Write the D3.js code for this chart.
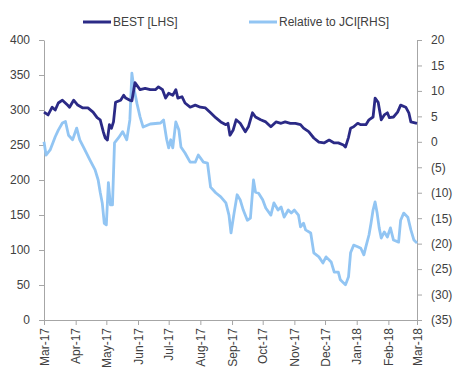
<!DOCTYPE html>
<html>
<head>
<meta charset="utf-8">
<script src="https://cdnjs.cloudflare.com/ajax/libs/d3/7.8.5/d3.min.js"></script>
<style>
  body { margin: 0; background: #fff; }
  text { font-family: "Liberation Sans", Arial, sans-serif; fill: #404040; }
</style>
</head>
<body>
<svg width="454" height="372"></svg>
<script>
// BEST share price (left axis)
const bestDates = ["2017-03-01","2017-03-05","2017-03-09","2017-03-12","2017-03-15","2017-03-19","2017-03-24","2017-03-26","2017-03-30","2017-04-03","2017-04-08","2017-04-13","2017-04-18","2017-04-22","2017-04-25","2017-04-28","2017-04-30","2017-05-02","2017-05-04","2017-05-06","2017-05-08","2017-05-10","2017-05-15","2017-05-18","2017-05-20","2017-05-24","2017-05-26","2017-05-29","2017-06-01","2017-06-03","2017-06-08","2017-06-13","2017-06-18","2017-06-21","2017-06-25","2017-06-28","2017-07-01","2017-07-05","2017-07-08","2017-07-10","2017-07-14","2017-07-17","2017-07-22","2017-07-27","2017-08-01","2017-08-06","2017-08-11","2017-08-16","2017-08-21","2017-08-26","2017-08-28","2017-08-30","2017-09-02","2017-09-05","2017-09-09","2017-09-14","2017-09-17","2017-09-21","2017-09-24","2017-09-29","2017-10-04","2017-10-09","2017-10-14","2017-10-19","2017-10-23","2017-10-28","2017-11-02","2017-11-07","2017-11-10","2017-11-15","2017-11-20","2017-11-25","2017-11-30","2017-12-05","2017-12-10","2017-12-14","2017-12-19","2017-12-21","2017-12-24","2017-12-26","2017-12-29","2018-01-02","2018-01-05","2018-01-10","2018-01-13","2018-01-17","2018-01-19","2018-01-22","2018-01-25","2018-01-28","2018-01-31","2018-02-02","2018-02-06","2018-02-10","2018-02-13","2018-02-18","2018-02-21","2018-02-23","2018-03-01"];
const bestValues = [297,293,304,300,310,314,307,304,314,307,303,303,297,289,286,269,260,257,279,274,283,311,314,321,317,314,313,339,333,329,331,329,329,333,329,317,324,321,329,317,319,310,304,307,304,303,296,289,283,279,281,264,271,286,281,269,276,296,290,286,283,276,283,281,283,281,281,279,274,269,260,254,253,257,253,253,250,247,261,274,276,281,279,279,286,290,317,311,286,293,296,289,290,297,307,304,296,283,281];

// Relative to JCI (right axis)
const relDates = ["2017-03-01","2017-03-03","2017-03-07","2017-03-12","2017-03-15","2017-03-19","2017-03-22","2017-03-25","2017-03-29","2017-04-02","2017-04-05","2017-04-10","2017-04-15","2017-04-20","2017-04-23","2017-04-25","2017-04-27","2017-04-29","2017-05-01","2017-05-03","2017-05-05","2017-05-07","2017-05-09","2017-05-13","2017-05-17","2017-05-21","2017-05-24","2017-05-26","2017-05-28","2017-05-31","2017-06-03","2017-06-06","2017-06-13","2017-06-23","2017-06-26","2017-06-29","2017-07-01","2017-07-03","2017-07-05","2017-07-08","2017-07-11","2017-07-13","2017-07-17","2017-07-22","2017-07-27","2017-07-30","2017-08-04","2017-08-08","2017-08-11","2017-08-16","2017-08-21","2017-08-26","2017-08-29","2017-08-31","2017-09-03","2017-09-06","2017-09-09","2017-09-12","2017-09-16","2017-09-19","2017-09-22","2017-09-24","2017-09-27","2017-10-01","2017-10-04","2017-10-09","2017-10-12","2017-10-16","2017-10-19","2017-10-22","2017-10-26","2017-10-29","2017-11-01","2017-11-05","2017-11-07","2017-11-10","2017-11-12","2017-11-17","2017-11-20","2017-11-25","2017-11-29","2017-12-02","2017-12-07","2017-12-10","2017-12-14","2017-12-16","2017-12-21","2017-12-24","2017-12-26","2017-12-29","2018-01-02","2018-01-05","2018-01-08","2018-01-10","2018-01-13","2018-01-15","2018-01-17","2018-01-19","2018-01-21","2018-01-23","2018-01-25","2018-01-28","2018-01-31","2018-02-03","2018-02-06","2018-02-11","2018-02-13","2018-02-16","2018-02-20","2018-02-23","2018-02-26","2018-03-01"];
const relValues = [0,-2.6,-1.6,1,2.3,3.7,4,1.3,0.4,2.7,0.4,-1.6,-3.6,-5.5,-7.5,-9.9,-12,-16,-16.3,-8,-12.4,-12.4,-0.2,0.8,2,0.4,4.3,13.5,10.5,7.5,4.9,2.9,3.5,3.7,4.3,0.5,-1.2,0.4,-1.2,3.9,2.3,-1,-2.2,-4,-4,-2.6,-4,-4.2,-8.9,-10,-10.8,-12,-14.4,-17.9,-14,-10.4,-11.4,-13.4,-15.4,-15,-7.5,-9.9,-10.1,-11.4,-13,-14.4,-12,-13.4,-12.8,-14.8,-13.4,-14,-13.4,-14.4,-16.7,-16,-17.3,-17.9,-21.8,-22.6,-23.8,-22.6,-23.6,-25.6,-25.6,-27.1,-28.1,-26.5,-21.8,-20.3,-20.6,-20.9,-22.2,-20.6,-18.3,-16,-13.4,-11.8,-14,-16.9,-18.9,-17.7,-18.7,-16.9,-19.3,-19.7,-15.4,-14,-14.8,-17.3,-19.3,-19.9];

const leftTicks = [0, 50, 100, 150, 200, 250, 300, 350, 400];
const rightTicks = [20, 15, 10, 5, 0, -5, -10, -15, -20, -25, -30, -35];
const seriesNames = ["BEST [LHS]", "Relative to JCI[RHS]"];

const svg = d3.select('svg');
const margin = { top: 40, right: 37, bottom: 52, left: 44 };
const width = +svg.attr('width');
const height = +svg.attr('height');
const innerW = width - margin.left - margin.right;
const innerH = height - margin.top - margin.bottom;

const parse = d3.timeParse('%Y-%m-%d');
const best = bestDates.map((d, i) => ({ date: parse(d), value: bestValues[i] }));
const rel = relDates.map((d, i) => ({ date: parse(d), value: relValues[i] }));

const x = d3.scaleTime()
  .domain([parse('2017-03-01'), parse('2018-03-01')])
  .range([0, innerW]);
const yL = d3.scaleLinear().domain([0, 400]).range([innerH, 0]);
const yR = d3.scaleLinear().domain([-35, 20]).range([innerH, 0]);

const g = svg.append('g').attr('transform', `translate(${margin.left},${margin.top})`);

const axisColor = '#a6a6a6';
const styleAxis = sel => {
  sel.selectAll('path, line').attr('stroke', axisColor);
  sel.selectAll('text').attr('font-size', 12).attr('fill', '#404040');
};

// --- Axes ---
g.append('g')
  .call(d3.axisLeft(yL).tickValues(leftTicks).tickSize(5).tickPadding(9).tickSizeOuter(0))
  .call(styleAxis);

const fmtR = v => v < 0 ? `(${-v})` : `${v}`;
g.append('g')
  .attr('transform', `translate(${innerW},0)`)
  .call(d3.axisRight(yR).tickValues(rightTicks).tickFormat(fmtR).tickSize(5).tickPadding(9).tickSizeOuter(0))
  .call(styleAxis);

const xAxis = g.append('g')
  .attr('transform', `translate(0,${innerH})`)
  .call(d3.axisBottom(x).ticks(d3.timeMonth.every(1)).tickFormat(d3.timeFormat('%b-%y')).tickSize(5).tickSizeOuter(0))
  .call(styleAxis);
xAxis.selectAll('text')
  .attr('transform', 'rotate(-90)')
  .attr('text-anchor', 'end')
  .attr('x', -8)
  .attr('y', 0)
  .attr('dy', '0.35em');

// --- Lines ---
const lineL = d3.line().x(d => x(d.date)).y(d => yL(d.value));
const lineR = d3.line().x(d => x(d.date)).y(d => yR(d.value));

const darkColor = '#2b2a86';
const lightColor = '#92c5f3';

g.append('path')
  .datum(rel)
  .attr('d', lineR)
  .attr('fill', 'none')
  .attr('stroke', lightColor)
  .attr('stroke-width', 2.8)
  .attr('stroke-linejoin', 'round');

g.append('path')
  .datum(best)
  .attr('d', lineL)
  .attr('fill', 'none')
  .attr('stroke', darkColor)
  .attr('stroke-width', 2.8)
  .attr('stroke-linejoin', 'round');

// --- Legend ---
const legend = svg.append('g');
const legendItems = [
  { name: seriesNames[0], color: darkColor, x: 83 },
  { name: seriesNames[1], color: lightColor, x: 249 }
];
legendItems.forEach(it => {
  legend.append('line')
    .attr('x1', it.x).attr('x2', it.x + 28)
    .attr('y1', 22).attr('y2', 22)
    .attr('stroke', it.color)
    .attr('stroke-width', 3);
  legend.append('text')
    .attr('x', it.x + 30)
    .attr('y', 22)
    .attr('dy', '0.35em')
    .attr('font-size', 12)
    .text(it.name);
});
</script>
</body>
</html>
